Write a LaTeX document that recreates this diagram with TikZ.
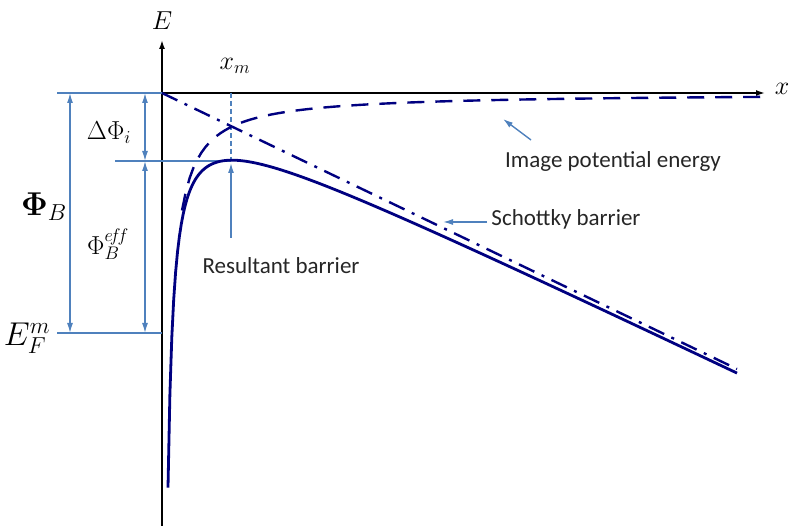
\RequirePackage{fix-cm}
\documentclass[tikz,border=0pt]{standalone}
\usepackage{fontspec}
\setmainfont{Carlito}
\usepackage{tikz}
\usetikzlibrary{arrows.meta, calc}
\definecolor{BandNavy}{RGB}{0, 0, 128}
\definecolor{GuideBlue}{RGB}{79, 129, 189}
\tikzset{
  axisline/.style={black, line width=1.6pt, -{Latex[length=9pt,width=6pt]}},
  guide/.style={GuideBlue, line width=1.4pt},
  dimarrow/.style={GuideBlue, line width=1.3pt, {Latex[length=10pt,width=6pt]}-{Latex[length=10pt,width=6pt]}},
  pointer/.style={GuideBlue, line width=1.4pt, -{Latex[length=10pt,width=6pt]}},
  curve/.style={BandNavy, line width=2.8pt},
  mathlabel/.style={font=\fontsize{26}{28}\selectfont},
  biglabel/.style={font=\fontsize{33}{35}\selectfont},
  textlabel/.style={font=\fontsize{23}{25}\selectfont, text=black!85}
}

\begin{document}
\begin{tikzpicture}[x=1pt,y=-1pt]
  \path[use as bounding box] (0,0) rectangle (793,526);
  % axes
  \coordinate (O) at (162,93);
  \coordinate (Ebot) at (162,526);
  \coordinate (Etip) at (162,40);
  \coordinate (xtip) at (765,93);
  \draw[axisline] (Ebot) -- (Etip);
  \draw[axisline] (O) -- (xtip);
  \node[mathlabel] (Elab) at (162,21) {$E$};
  \node[mathlabel] (xlab) at (782,89) {$x$};
  % energy levels
  \coordinate (topL) at (57,93);
  \coordinate (peakL) at (115,161);
  \coordinate (xmtop) at (231,93);
  \coordinate (peak) at (231,161);
  \coordinate (fermiL) at (57,333);
  \coordinate (fermi) at (162,333);
  \draw[guide] (topL) -- (O);
  \draw[guide] (peakL) -- (peak);
  \draw[guide] (fermiL) -- (fermi);
  \draw[guide, line width=1.1pt, dash pattern=on 5pt off 3pt] (xmtop) -- (peak);
  \node[mathlabel] (xmlab) at (235,66) {$x_m$};
  % barrier heights
  \draw[dimarrow] (70,93) -- (70,333);
  \draw[dimarrow] (145,93) -- (145,161);
  \draw[dimarrow] (145,161) -- (145,333);
  \node[mathlabel] (dphi) at (109,133) {$\Delta\Phi_i$};
  \node[biglabel] (phib) at (44,207) {{\boldmath$\Phi$}$_B$};
  \node[mathlabel] (phieff) at (108,244) {$\Phi_B^{e\!f\!f}$};
  \node[biglabel] (ef) at (27,338) {$E_F^m$};
  % curves
  \draw[curve, line width=2.4pt, dash pattern=on 17pt off 8pt on 3pt off 8pt]
    (O) -- (737,369);
  \draw[curve, line width=2.4pt, dash pattern=on 17pt off 11pt]
    plot[domain=20:600, samples=150] ({162+\x},{93+2350/\x});
  \draw[curve] plot[domain=6:575, samples=300] ({162+\x},{93+0.48*\x+2350/\x});
  % labels
  \node[textlabel] (imglab) at (613,161) {Image potential energy};
  \node[textlabel] (schlab) at (566,219) {Schottky barrier};
  \node[textlabel] (reslab) at (281,266) {Resultant barrier};
  \coordinate (imgtail) at (531,140);
  \coordinate (imghead) at (503,119);
  \coordinate (schtail) at (487,222);
  \coordinate (schhead) at (443,222);
  \coordinate (restail) at (231,238);
  \coordinate (reshead) at (231,163);
  \draw[pointer] (imgtail) -- (imghead);
  \draw[pointer] (schtail) -- (schhead);
  \draw[pointer] (restail) -- (reshead);
\end{tikzpicture}
\end{document}
